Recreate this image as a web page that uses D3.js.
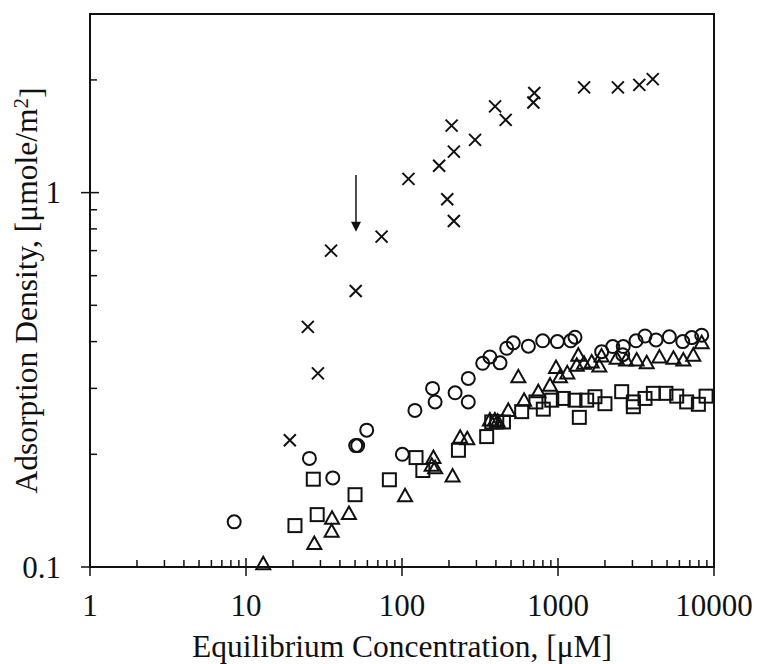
<!DOCTYPE html>
<html>
<head>
<meta charset="utf-8">
<script src="https://cdn.jsdelivr.net/npm/d3@7"></script>
<style>
  body { margin: 0; background: #fff; }
  text { font-family: "Liberation Serif", "Times New Roman", serif; fill: #111; }
</style>
</head>
<body>
<div id="chart"></div>
<script>
// data: [concentration uM, density umole/m2]
const crosses = [[19.1,0.218],[24.9,0.438],[28.9,0.329],[35.1,0.70],[50.5,0.546],[74,0.763],
  [110,1.088],[173,1.18],[195,0.96],[208,1.51],[215,1.287],[215,0.84],[294,1.383],[395,1.70],
  [462,1.564],[695,1.74],[705,1.845],[1470,1.91],[2420,1.91],[3320,1.94],[4050,2.01]];

const circles = [[8.4,0.132],[25.5,0.195],[36,0.173],[50.5,0.211],[52,0.211],[59.4,0.232],
  [100.5,0.2],[121,0.262],[157,0.30],[163,0.276],[219,0.292],[266,0.319],[266,0.276],[329,0.35],
  [366,0.364],[425,0.351],[469,0.384],[517,0.397],[646,0.389],[798,0.402],[991,0.40],[1205,0.402],
  [1285,0.411],[1906,0.376],[2243,0.388],[2620,0.388],[2600,0.369],[3163,0.402],[3612,0.414],
  [4250,0.404],[5173,0.412],[6305,0.40],[7200,0.41],[8340,0.416]];

const triangles = [[12.9,0.102],[27.4,0.1155],[35.4,0.1246],[35.6,0.135],[45.7,0.139],[104.6,0.155],
  [155,0.187],[159,0.196],[163,0.184],[211,0.175],[236,0.222],[262,0.22],[366,0.247],[394,0.247],
  [410,0.245],[480,0.262],[557,0.322],[606,0.279],[748,0.294],[889,0.306],[971,0.341],[1030,0.322],
  [1147,0.33],[1319,0.346],[1350,0.368],[1468,0.35],[1644,0.353],[1841,0.344],[1900,0.366],
  [2376,0.361],[2729,0.357],[3194,0.357],[3704,0.351],[4468,0.364],[5496,0.361],[6356,0.357],
  [7365,0.368],[8340,0.397]];

const squares = [[20.6,0.129],[27,0.1716],[28.6,0.138],[50,0.156],[83,0.171],[123,0.196],[136,0.181],
  [230,0.205],[349,0.223],[376,0.244],[405,0.244],[447,0.244],[585,0.26],[722,0.276],[805,0.264],
  [912,0.279],[1082,0.282],[1285,0.279],[1370,0.251],[1527,0.279],[1726,0.285],[2000,0.273],
  [2560,0.294],[3041,0.268],[3041,0.276],[3612,0.282],[4085,0.291],[4920,0.291],[5766,0.286],
  [6680,0.276],[7940,0.272],[8895,0.286]];

const xMajor = [1, 10, 100, 1000, 10000];
const yMajor = [0.1, 1];
const yMinor = [0.2, 0.3, 0.4, 0.5, 0.6, 0.7, 0.8, 0.9, 2];
const arrowAt = {x: 50.7, from: 1.115, to: 0.786};

const svg = d3.select("#chart").append("svg")
  .attr("width", 759)
  .attr("height", 664);

const margin = {top: 14, right: 45, bottom: 97, left: 90},
  width = 759 - margin.left - margin.right,
  height = 664 - margin.top - margin.bottom;

const g = svg.append("g").attr("transform", "translate(" + margin.left + "," + margin.top + ")");

const x = d3.scaleLog().domain([1, 10000]).range([0, width]);
const y = d3.scaleLog().domain([0.1, 3]).range([height, 0]);

// minor x ticks, 2..9 in every decade
const xMinor = [];
xMajor.slice(0, -1).forEach(d => { for (let k = 2; k < 10; k++) xMinor.push(d * k); });

const ink = "#111";

// frame
g.append("rect")
  .attr("width", width)
  .attr("height", height)
  .attr("fill", "none")
  .attr("stroke", ink)
  .attr("stroke-width", 2);

// x ticks
g.selectAll(".xminor").data(xMinor).enter().append("line")
  .attr("x1", d => x(d)).attr("x2", d => x(d))
  .attr("y1", height).attr("y2", height - 7)
  .attr("stroke", ink).attr("stroke-width", 1.5);
g.selectAll(".xmajor").data(xMajor).enter().append("line")
  .attr("x1", d => x(d)).attr("x2", d => x(d))
  .attr("y1", height + 9).attr("y2", height - 9)
  .attr("stroke", ink).attr("stroke-width", 1.5);
g.selectAll(".xlab").data(xMajor).enter().append("text")
  .attr("x", d => x(d))
  .attr("y", height + 49)
  .attr("text-anchor", "middle")
  .style("font-size", "31px")
  .text(d => d);

// y ticks
g.selectAll(".yminor").data(yMinor).enter().append("line")
  .attr("x1", 0).attr("x2", 7)
  .attr("y1", d => y(d)).attr("y2", d => y(d))
  .attr("stroke", ink).attr("stroke-width", 1.5);
g.selectAll(".ymajor").data(yMajor).enter().append("line")
  .attr("x1", -9).attr("x2", 9)
  .attr("y1", d => y(d)).attr("y2", d => y(d))
  .attr("stroke", ink).attr("stroke-width", 1.5);
g.selectAll(".ylab").data(yMajor).enter().append("text")
  .attr("x", -29)
  .attr("y", d => y(d))
  .attr("dy", "0.35em")
  .attr("text-anchor", "end")
  .style("font-size", "31px")
  .text(d => d);

// axis titles
g.append("text")
  .attr("x", width / 2)
  .attr("y", height + 90)
  .attr("text-anchor", "middle")
  .style("font-size", "31.5px")
  .text("Equilibrium Concentration, [\u03bcM]");

const ytitle = g.append("text")
  .attr("transform", "translate(-53," + (height / 2) + ") rotate(-90)")
  .attr("text-anchor", "middle")
  .style("font-size", "31.5px");
ytitle.append("tspan").text("Adsorption Density, [\u03bcmole/m");
ytitle.append("tspan").attr("dy", "-0.45em").style("font-size", "21px").text("2");
ytitle.append("tspan").attr("dy", "0.45em").text("]");

// markers
const mk = {fill: "none", stroke: "#111", sw: 2};

g.selectAll(".cross").data(crosses).enter().append("path")
  .attr("transform", d => "translate(" + x(d[0]) + "," + y(d[1]) + ")")
  .attr("d", "M-6,-6L6,6M-6,6L6,-6")
  .attr("fill", "none").attr("stroke", mk.stroke).attr("stroke-width", mk.sw);

g.selectAll(".circle").data(circles).enter().append("circle")
  .attr("cx", d => x(d[0]))
  .attr("cy", d => y(d[1]))
  .attr("r", 6.5)
  .attr("fill", mk.fill).attr("stroke", mk.stroke).attr("stroke-width", mk.sw);

g.selectAll(".tri").data(triangles).enter().append("path")
  .attr("transform", d => "translate(" + x(d[0]) + "," + y(d[1]) + ")")
  .attr("d", "M0,-7L7,5.5L-7,5.5Z")
  .attr("fill", mk.fill).attr("stroke", mk.stroke).attr("stroke-width", mk.sw);

g.selectAll(".sq").data(squares).enter().append("rect")
  .attr("x", d => x(d[0]) - 6.5)
  .attr("y", d => y(d[1]) - 6.5)
  .attr("width", 13)
  .attr("height", 13)
  .attr("fill", mk.fill).attr("stroke", mk.stroke).attr("stroke-width", mk.sw);

// arrow
const ax = x(arrowAt.x), ay1 = y(arrowAt.from), ay2 = y(arrowAt.to);
g.append("line")
  .attr("x1", ax).attr("x2", ax)
  .attr("y1", ay1).attr("y2", ay2 - 8)
  .attr("stroke", "#111").attr("stroke-width", 1.5);
g.append("path")
  .attr("d", "M" + (ax - 5) + "," + (ay2 - 10) + "L" + (ax + 5) + "," + (ay2 - 10) + "L" + ax + "," + ay2 + "Z")
  .attr("fill", "#111");
</script>
</body>
</html>
